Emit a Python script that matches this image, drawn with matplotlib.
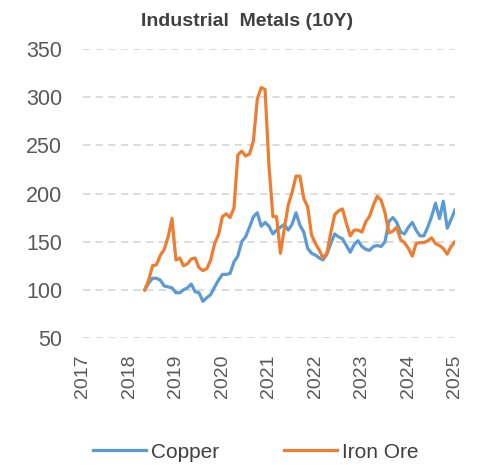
import matplotlib
matplotlib.use("Agg")
import matplotlib.pyplot as plt
import pandas as pd

start_month = "2018-05-01"
copper = [100, 107, 112, 112, 110, 104, 103, 102, 97, 97, 100, 102, 106, 98, 97, 88, 92, 95,
          103, 110, 116, 116, 117, 129, 135, 150, 155, 165, 176, 180, 166, 170, 166, 158, 162,
          165, 168, 162, 168, 180, 167, 160, 143, 138, 136, 133, 131, 137, 148, 158, 155, 153,
          146, 139, 147, 151, 145, 142, 141, 145, 146, 145, 150, 171, 175, 170, 160, 158, 165,
          170, 162, 156, 156, 165, 176, 190, 174, 192, 164, 173, 183]
iron_ore = [100, 110, 125, 126, 136, 142, 155, 174, 131, 133, 125, 127, 132, 133, 123, 120, 122,
            131, 148, 157, 176, 179, 175, 185, 240, 244, 239, 241, 255, 298, 310, 308, 228, 176,
            176, 138, 163, 188, 201, 218, 218, 195, 186, 157, 148, 141, 133, 138, 159, 178, 182,
            184, 169, 156, 162, 162, 160, 171, 176, 188, 197, 193, 180, 159, 161, 165, 152, 149,
            143, 135, 148, 149, 149, 151, 154, 148, 146, 143, 137, 145, 150]
years = list(range(2017, 2026))
y_ticks = [50, 100, 150, 200, 250, 300, 350]
title = "Industrial  Metals (10Y)"
series_names = ["Copper", "Iron Ore"]

dates = pd.date_range(start_month, periods=len(copper), freq="MS")

plt.rcParams["font.family"] = ["Liberation Sans", "DejaVu Sans"]

fig = plt.figure(figsize=(4.87, 4.65), dpi=100)
ax = fig.add_axes([83 / 487, 1 - 338 / 465, (455 - 83) / 487, (338 - 49) / 465])

ax.plot(dates, copper, color="#5B9BD5", lw=2.3, label=series_names[0], solid_joinstyle="round")
ax.plot(dates, iron_ore, color="#ED7D31", lw=2.3, label=series_names[1], solid_joinstyle="round")

ax.set_ylim(50, 350)
ax.set_yticks(y_ticks)
ax.set_xlim(pd.Timestamp(f"{years[0]}-01-01"), pd.Timestamp(f"{years[-1]}-01-01"))
ax.set_xticks([pd.Timestamp(f"{y}-01-01") for y in years])
ax.set_xticklabels([str(y) for y in years], rotation=90)

ax.grid(axis="y", color="#d9d9d9", lw=1.3, linestyle=(0, (4, 3)))
ax.grid(axis="x", visible=False)
ax.set_axisbelow(True)
for s in ax.spines.values():
    s.set_visible(False)
ax.tick_params(axis="both", length=0, colors="#595959")
ax.tick_params(axis="y", pad=15, labelsize=15.5)
ax.tick_params(axis="x", pad=12, labelsize=14)

fig.text(247 / 487, 1 - 21 / 465, title, ha="center", va="center",
         fontsize=14, fontweight="bold", color="#404040")

leg = fig.legend(loc="center", bbox_to_anchor=(256 / 487, 1 - 452 / 465), ncol=2,
                 frameon=False, fontsize=15, handlelength=2.55, columnspacing=3.1,
                 handletextpad=0.25)
for t in leg.get_texts():
    t.set_color("#404040")

fig.savefig("out.png", dpi=100)
